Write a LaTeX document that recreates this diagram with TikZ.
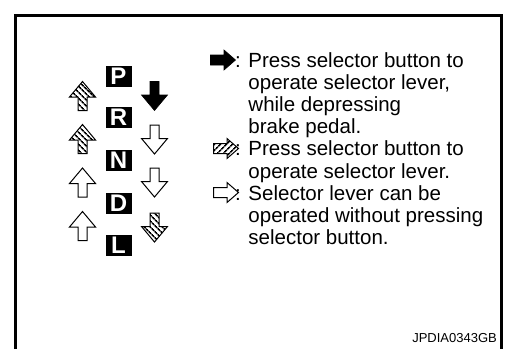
\documentclass[tikz,border=0pt]{standalone}
\usepackage{fontspec}
\setmainfont{Liberation Sans}
\usetikzlibrary{patterns.meta}
\tikzset{
  letterbox/.style={fill=black,text=white,font=\fontsize{24}{24}\selectfont\bfseries,
    minimum width=26pt,minimum height=21pt,inner sep=0pt},
  legtext/.style={anchor=base west,inner sep=0pt,font=\fontsize{20.5}{22}\selectfont},
  solidarr/.style={fill=black,draw=black,line width=0.6pt,line join=miter},
  openarr/.style={fill=white,draw=black,line width=1pt,line join=miter},
  hatchA/.style={draw=black,line width=1pt,line join=miter,
    pattern={Lines[angle=-45,distance=4pt,line width=1.7pt]}},
  hatchB/.style={draw=black,line width=1pt,line join=miter,
    pattern={Lines[angle=45,distance=4pt,line width=1.7pt]}},
  frameline/.style={line width=3pt}
}
% vertical shift arrow: centre (#2,#3), rotation #4, tip up at rotation 0
\newcommand\ShiftArrow[4]{%
  \path[#1,shift={(#2,#3)},rotate=#4]
    (0,-14.5) -- (13,1) -- (4.5,1) -- (4.5,14.5) -- (-4.5,14.5) -- (-4.5,1) -- (-13,1) -- cycle;}
% legend arrow pointing right
\newcommand\LegArrow[3]{%
  \path[#1,shift={(#2,#3)}]
    (12.5,0) -- (1,-10) -- (1,-5) -- (-12.5,-5) -- (-12.5,5) -- (1,5) -- (1,10) -- cycle;}
\begin{document}
\begin{tikzpicture}[x=1pt,y=-1pt]
\useasboundingbox (0,0) rectangle (505,349);
\fill[white] (0,0) rectangle (505,349);
\draw[frameline] (15,349) -- (15,15) -- (501,15) -- (501,349);

% gear letters
\node[letterbox] (P) at (118.5,76) {P};
\node[letterbox] (R) at (118.5,117.5) {R};
\node[letterbox] (N) at (118.5,160) {N};
\node[letterbox] (D) at (118.5,203) {D};
\node[letterbox] (L) at (118.5,245.5) {L};

% left column (upshift)
\ShiftArrow{hatchA}{82.5}{96}{0}
\ShiftArrow{hatchA}{82.5}{139}{0}
\ShiftArrow{openarr}{82.5}{182.5}{0}
\ShiftArrow{openarr}{82.5}{226}{0}

% right column (downshift)
\ShiftArrow{solidarr}{154.5}{96}{180}
\ShiftArrow{openarr}{154.5}{139.5}{180}
\ShiftArrow{openarr}{154.5}{182.5}{180}
\ShiftArrow{hatchA}{154.5}{227.5}{180}

% legend
\LegArrow{solidarr}{223}{60}
\LegArrow{hatchB}{226}{148.5}
\LegArrow{openarr}{226}{192.5}

\node[legtext] (t1) at (235,67.5) {: Press selector button to};
\node[legtext] (t2) at (235,89.6) {\phantom{: }operate selector lever,};
\node[legtext] (t3) at (235,111.7) {\phantom{: }while depressing};
\node[legtext] (t4) at (235,133.8) {\phantom{: }brake pedal.};
\node[legtext] (t5) at (235,155.9) {: Press selector button to};
\node[legtext] (t6) at (235,178) {\phantom{: }operate selector lever.};
\node[legtext] (t7) at (235,200.1) {: Selector lever can be};
\node[legtext] (t8) at (235,222.2) {\phantom{: }operated without pressing};
\node[legtext] (t9) at (235,244.3) {\phantom{: }selector button.};

\node[anchor=base east,inner sep=0pt,font=\fontsize{13}{13}\selectfont] (code) at (497,342) {JPDIA0343GB};
\end{tikzpicture}
\end{document}
